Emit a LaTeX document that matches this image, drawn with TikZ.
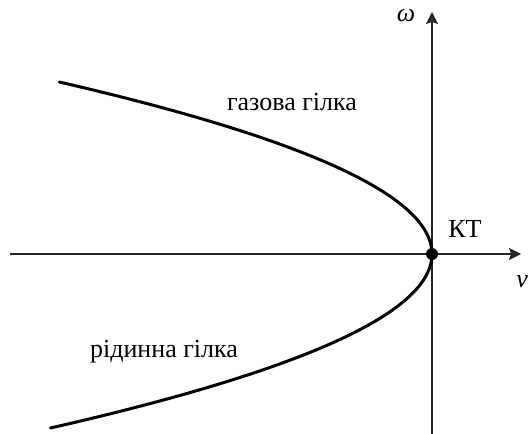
\documentclass[tikz,border=0pt]{standalone}
\usepackage{fontspec}
\setmainfont{Liberation Serif}
\usepackage{tikz}
\usetikzlibrary{arrows.meta}
\tikzset{axis/.style={line width=1.4pt,draw=black!85,-{Stealth[length=12pt,width=12pt,inset=2pt]}},branch/.style={line width=3pt,line cap=round,line join=round},lbl/.style={font=\fontsize{26}{30}\selectfont,inner sep=0pt,anchor=base},pt/.style={circle,fill=black,inner sep=0pt,minimum size=12pt}}

\begin{document}
\begin{tikzpicture}[x=1pt,y=-1pt]
\useasboundingbox (0,0) rectangle (528,434);
\coordinate (xs) at (10,254);\coordinate (xe) at (521,254);
\coordinate (ys) at (432,434);\coordinate (ye) at (432,12);
\draw[axis] (xs)--(xe);\draw[axis] (ys)--(ye);
\draw[branch] plot[domain=-17.2:17.4,samples=90,smooth] ({432-1.26*\x*\x},{254+10*\x});
\node[pt] (kt) at (432,254) {};
\node[lbl] (kttext) at (465,237) {КТ};
\node[lbl] (gas) at (292,110) {газова гілка};
\node[lbl] (liq) at (164,357) {рідинна гілка};
\node[lbl] (om) at (406,21) {\textit{ω}};
\node[lbl,anchor=base east] (vv) at (528,287) {\textit{v}};
\end{tikzpicture}
\end{document}
